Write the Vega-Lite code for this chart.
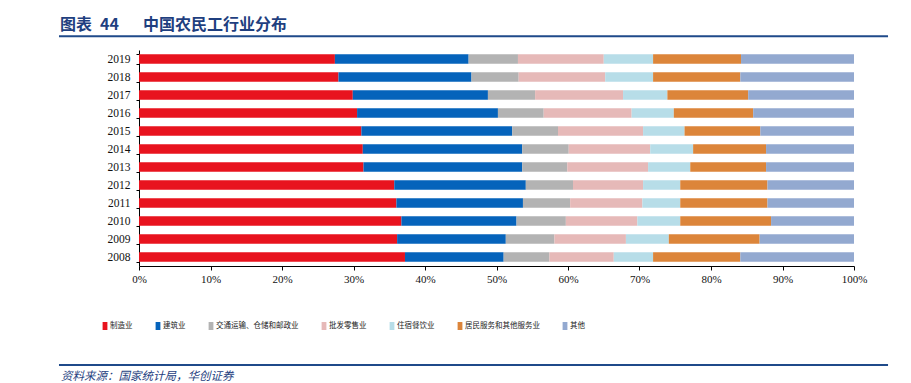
{
  "$schema": "https://vega.github.io/schema/vega-lite/v6.json",
  "width": 715,
  "height": 216,
  "autosize": {"type": "none"},
  "padding": {"left": 139, "top": 50, "right": 57, "bottom": 117},
  "background": "white",
  "config": {"view": {"stroke": null}},
  "title": {
    "text": "图表\u200244\u3000\u2002中国农民工行业分布",
    "anchor": "start",
    "frame": "group",
    "dx": -79,
    "offset": 2,
    "fontSize": 16,
    "font": "Noto Sans CJK SC",
    "fontWeight": "bold",
    "color": "#1F3F7F"
  },
  "datasets": {
    "shares": [
      {"year": "2019", "industry": "制造业", "seq": 1, "share": 27.4},
      {"year": "2019", "industry": "建筑业", "seq": 2, "share": 18.7},
      {"year": "2019", "industry": "交通运输、仓储和邮政业", "seq": 3, "share": 6.9},
      {"year": "2019", "industry": "批发零售业", "seq": 4, "share": 12.0},
      {"year": "2019", "industry": "住宿餐饮业", "seq": 5, "share": 6.9},
      {"year": "2019", "industry": "居民服务和其他服务业", "seq": 6, "share": 12.3},
      {"year": "2019", "industry": "其他", "seq": 7, "share": 15.8},
      {"year": "2018", "industry": "制造业", "seq": 1, "share": 27.9},
      {"year": "2018", "industry": "建筑业", "seq": 2, "share": 18.6},
      {"year": "2018", "industry": "交通运输、仓储和邮政业", "seq": 3, "share": 6.6},
      {"year": "2018", "industry": "批发零售业", "seq": 4, "share": 12.1},
      {"year": "2018", "industry": "住宿餐饮业", "seq": 5, "share": 6.7},
      {"year": "2018", "industry": "居民服务和其他服务业", "seq": 6, "share": 12.2},
      {"year": "2018", "industry": "其他", "seq": 7, "share": 15.9},
      {"year": "2017", "industry": "制造业", "seq": 1, "share": 29.9},
      {"year": "2017", "industry": "建筑业", "seq": 2, "share": 18.9},
      {"year": "2017", "industry": "交通运输、仓储和邮政业", "seq": 3, "share": 6.6},
      {"year": "2017", "industry": "批发零售业", "seq": 4, "share": 12.3},
      {"year": "2017", "industry": "住宿餐饮业", "seq": 5, "share": 6.2},
      {"year": "2017", "industry": "居民服务和其他服务业", "seq": 6, "share": 11.3},
      {"year": "2017", "industry": "其他", "seq": 7, "share": 14.8},
      {"year": "2016", "industry": "制造业", "seq": 1, "share": 30.5},
      {"year": "2016", "industry": "建筑业", "seq": 2, "share": 19.7},
      {"year": "2016", "industry": "交通运输、仓储和邮政业", "seq": 3, "share": 6.4},
      {"year": "2016", "industry": "批发零售业", "seq": 4, "share": 12.3},
      {"year": "2016", "industry": "住宿餐饮业", "seq": 5, "share": 5.9},
      {"year": "2016", "industry": "居民服务和其他服务业", "seq": 6, "share": 11.1},
      {"year": "2016", "industry": "其他", "seq": 7, "share": 14.1},
      {"year": "2015", "industry": "制造业", "seq": 1, "share": 31.1},
      {"year": "2015", "industry": "建筑业", "seq": 2, "share": 21.1},
      {"year": "2015", "industry": "交通运输、仓储和邮政业", "seq": 3, "share": 6.4},
      {"year": "2015", "industry": "批发零售业", "seq": 4, "share": 11.9},
      {"year": "2015", "industry": "住宿餐饮业", "seq": 5, "share": 5.8},
      {"year": "2015", "industry": "居民服务和其他服务业", "seq": 6, "share": 10.6},
      {"year": "2015", "industry": "其他", "seq": 7, "share": 13.1},
      {"year": "2014", "industry": "制造业", "seq": 1, "share": 31.3},
      {"year": "2014", "industry": "建筑业", "seq": 2, "share": 22.3},
      {"year": "2014", "industry": "交通运输、仓储和邮政业", "seq": 3, "share": 6.5},
      {"year": "2014", "industry": "批发零售业", "seq": 4, "share": 11.4},
      {"year": "2014", "industry": "住宿餐饮业", "seq": 5, "share": 6.0},
      {"year": "2014", "industry": "居民服务和其他服务业", "seq": 6, "share": 10.2},
      {"year": "2014", "industry": "其他", "seq": 7, "share": 12.3},
      {"year": "2013", "industry": "制造业", "seq": 1, "share": 31.4},
      {"year": "2013", "industry": "建筑业", "seq": 2, "share": 22.2},
      {"year": "2013", "industry": "交通运输、仓储和邮政业", "seq": 3, "share": 6.3},
      {"year": "2013", "industry": "批发零售业", "seq": 4, "share": 11.3},
      {"year": "2013", "industry": "住宿餐饮业", "seq": 5, "share": 5.9},
      {"year": "2013", "industry": "居民服务和其他服务业", "seq": 6, "share": 10.6},
      {"year": "2013", "industry": "其他", "seq": 7, "share": 12.3},
      {"year": "2012", "industry": "制造业", "seq": 1, "share": 35.7},
      {"year": "2012", "industry": "建筑业", "seq": 2, "share": 18.4},
      {"year": "2012", "industry": "交通运输、仓储和邮政业", "seq": 3, "share": 6.6},
      {"year": "2012", "industry": "批发零售业", "seq": 4, "share": 9.8},
      {"year": "2012", "industry": "住宿餐饮业", "seq": 5, "share": 5.2},
      {"year": "2012", "industry": "居民服务和其他服务业", "seq": 6, "share": 12.2},
      {"year": "2012", "industry": "其他", "seq": 7, "share": 12.1},
      {"year": "2011", "industry": "制造业", "seq": 1, "share": 36.0},
      {"year": "2011", "industry": "建筑业", "seq": 2, "share": 17.7},
      {"year": "2011", "industry": "交通运输、仓储和邮政业", "seq": 3, "share": 6.6},
      {"year": "2011", "industry": "批发零售业", "seq": 4, "share": 10.1},
      {"year": "2011", "industry": "住宿餐饮业", "seq": 5, "share": 5.3},
      {"year": "2011", "industry": "居民服务和其他服务业", "seq": 6, "share": 12.2},
      {"year": "2011", "industry": "其他", "seq": 7, "share": 12.1},
      {"year": "2010", "industry": "制造业", "seq": 1, "share": 36.7},
      {"year": "2010", "industry": "建筑业", "seq": 2, "share": 16.1},
      {"year": "2010", "industry": "交通运输、仓储和邮政业", "seq": 3, "share": 6.9},
      {"year": "2010", "industry": "批发零售业", "seq": 4, "share": 10.0},
      {"year": "2010", "industry": "住宿餐饮业", "seq": 5, "share": 6.0},
      {"year": "2010", "industry": "居民服务和其他服务业", "seq": 6, "share": 12.7},
      {"year": "2010", "industry": "其他", "seq": 7, "share": 11.6},
      {"year": "2009", "industry": "制造业", "seq": 1, "share": 36.1},
      {"year": "2009", "industry": "建筑业", "seq": 2, "share": 15.2},
      {"year": "2009", "industry": "交通运输、仓储和邮政业", "seq": 3, "share": 6.8},
      {"year": "2009", "industry": "批发零售业", "seq": 4, "share": 10.0},
      {"year": "2009", "industry": "住宿餐饮业", "seq": 5, "share": 6.0},
      {"year": "2009", "industry": "居民服务和其他服务业", "seq": 6, "share": 12.7},
      {"year": "2009", "industry": "其他", "seq": 7, "share": 13.2},
      {"year": "2008", "industry": "制造业", "seq": 1, "share": 37.2},
      {"year": "2008", "industry": "建筑业", "seq": 2, "share": 13.8},
      {"year": "2008", "industry": "交通运输、仓储和邮政业", "seq": 3, "share": 6.4},
      {"year": "2008", "industry": "批发零售业", "seq": 4, "share": 9.0},
      {"year": "2008", "industry": "住宿餐饮业", "seq": 5, "share": 5.5},
      {"year": "2008", "industry": "居民服务和其他服务业", "seq": 6, "share": 12.2},
      {"year": "2008", "industry": "其他", "seq": 7, "share": 15.9}
    ]
  },
  "layer": [
    {
      "data": {"name": "shares"},
      "mark": {"type": "bar"},
      "encoding": {
        "y": {
          "field": "year",
          "type": "nominal",
          "sort": "descending",
          "scale": {"paddingInner": 0.47, "paddingOuter": 0.235},
          "axis": {
            "title": null,
            "domainColor": "#000000",
            "tickColor": "#000000",
            "tickSize": 3,
            "tickBand": "extent",
            "labelFont": "Liberation Serif",
            "labelFontSize": 11.5,
            "labelColor": "#111111",
            "labelPadding": 6
          }
        },
        "x": {
          "field": "share",
          "type": "quantitative",
          "stack": "normalize",
          "scale": {"domain": [0, 1], "nice": false},
          "axis": {
            "title": null,
            "values": [0, 0.1, 0.2, 0.3, 0.4, 0.5, 0.6, 0.7, 0.8, 0.9, 1],
            "format": ".0%",
            "grid": false,
            "domainColor": "#000000",
            "tickColor": "#000000",
            "tickSize": 4,
            "labelFont": "Liberation Serif",
            "labelFontSize": 11,
            "labelColor": "#111111",
            "labelPadding": 3,
            "labelFlush": false
          }
        },
        "color": {
          "field": "industry",
          "type": "nominal",
          "scale": {
            "domain": ["制造业", "建筑业", "交通运输、仓储和邮政业", "批发零售业", "住宿餐饮业", "居民服务和其他服务业", "其他"],
            "range": ["#E8131E", "#0563BB", "#B3B3B3", "#E6B9B8", "#B7DDE8", "#DC853A", "#93A9D0"]
          },
          "legend": {
            "title": null,
            "orient": "none",
            "legendX": -38,
            "legendY": 272,
            "direction": "horizontal",
            "symbolType": "M-0.6,-1H0.6V1H-0.6Z",
            "symbolSize": 64,
            "symbolStrokeWidth": 0,
            "labelFont": "Noto Sans CJK SC",
            "labelFontSize": 7.5,
            "labelColor": "#222222",
            "labelOffset": 1,
            "columnPadding": 21,
            "padding": 0
          }
        },
        "order": {"field": "seq", "type": "quantitative"}
      }
    },
    {
      "data": {"values": [{}]},
      "mark": {"type": "rule", "color": "#1F4A8A", "strokeWidth": 2},
      "encoding": {
        "x": {"datum": -0.1119, "type": "quantitative", "scale": {"domain": [0, 1], "nice": false}},
        "x2": {"datum": 1.0476},
        "y": {"datum": 1.0639, "type": "quantitative", "scale": {"domain": [0, 1], "nice": false}, "axis": null}
      }
    },
    {
      "data": {"values": [{}]},
      "mark": {"type": "rule", "color": "#1F4A8A", "strokeWidth": 2},
      "encoding": {
        "x": {"datum": -0.1119, "type": "quantitative", "scale": {"domain": [0, 1], "nice": false}},
        "x2": {"datum": 1.0476},
        "y": {"datum": -0.4583, "type": "quantitative", "scale": {"domain": [0, 1], "nice": false}, "axis": null}
      }
    },
    {
      "data": {"values": [{}]},
      "mark": {"type": "text", "align": "left", "baseline": "middle", "font": "Noto Sans CJK SC", "fontSize": 11.5, "fontStyle": "italic", "color": "#1F3F7F"},
      "encoding": {
        "x": {"datum": -0.1091, "type": "quantitative", "scale": {"domain": [0, 1], "nice": false}},
        "y": {"datum": -0.5116, "type": "quantitative", "scale": {"domain": [0, 1], "nice": false}, "axis": null},
        "text": {"value": "资料来源：国家统计局，华创证券"}
      }
    }
  ],
  "resolve": {"scale": {"y": "independent"}, "axis": {"y": "independent"}}
}
